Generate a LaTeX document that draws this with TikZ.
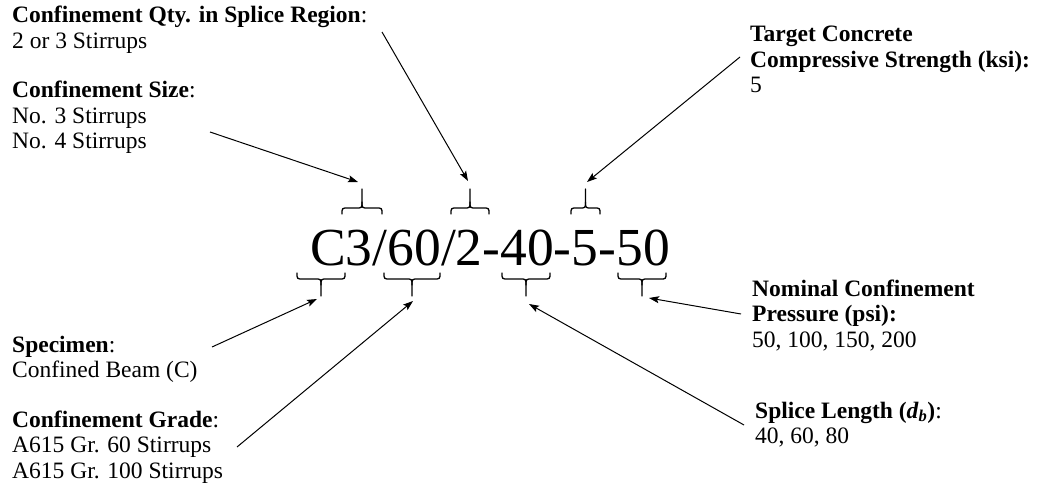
\documentclass[tikz,border=0pt]{standalone}
\usepackage{fontspec}
\setmainfont{Liberation Serif}
\usetikzlibrary{arrows.meta}

\tikzset{
  lbl/.style={anchor=base west, align=left, inner sep=0pt,
              font=\fontsize{23.5}{25.5}\selectfont},
  code/.style={anchor=base west, inner sep=0pt, font=\fontsize{53.5}{54}\selectfont},
  arr/.style={line width=1pt, -{Stealth[length=10pt,width=7pt,inset=2pt]}},
  br/.style={line width=1.3pt, line cap=round, line join=round},
}

% brace above a group of characters: #1 left x, #2 right x, #3 y of the ends, #4 y of the tip
\newcommand\bracetop[4]{%
  \pgfmathsetmacro\bxm{(#1+#2)/2}%
  \draw[br] (#1,#3) .. controls (#1,{#3-6}) .. ({#1+6},{#3-6})
    -- ({\bxm-6},{#3-6}) .. controls (\bxm,{#3-6}) .. (\bxm,{#3-12})
    -- (\bxm,#4);
  \draw[br] (\bxm,{#3-12}) .. controls (\bxm,{#3-6}) .. ({\bxm+6},{#3-6})
    -- ({#2-6},{#3-6}) .. controls (#2,{#3-6}) .. (#2,#3);
}
% brace below a group of characters: #1 left x, #2 right x, #3 y of the ends, #4 y of the tip
\newcommand\bracebot[4]{%
  \pgfmathsetmacro\bxm{(#1+#2)/2}%
  \draw[br] (#1,#3) .. controls (#1,{#3+6}) .. ({#1+6},{#3+6})
    -- ({\bxm-6},{#3+6}) .. controls (\bxm,{#3+6}) .. (\bxm,{#3+12})
    -- (\bxm,#4);
  \draw[br] (\bxm,{#3+12}) .. controls (\bxm,{#3+6}) .. ({\bxm+6},{#3+6})
    -- ({#2-6},{#3+6}) .. controls (#2,{#3+6}) .. (#2,#3);
}

\begin{document}
\begin{tikzpicture}[x=1pt,y=-1pt]
\useasboundingbox (0,0) rectangle (1040,494);

% specimen designation
\node[code] (code) at (310,265) {C3/60/2-40-5-50};

% braces over and under the parts of the designation
\bracetop{342}{382}{214}{189}
\bracetop{451}{489}{214}{189}
\bracetop{571}{600}{214}{189}
\bracebot{297}{345}{273}{296}
\bracebot{384}{440}{273}{296}
\bracebot{502}{550}{273}{296}
\bracebot{618}{666}{273}{296}

% labels (each placed by the baseline of its last line)
\node[lbl] (qty) at (12,48.5) {\textbf{Confinement Qty. in Splice Region}:\\2 or 3 Stirrups};
\node[lbl] (size) at (12,149) {\textbf{Confinement Size}:\\No. 3 Stirrups\\No. 4 Stirrups};
\node[lbl] (target) at (750,93) {\textbf{Target Concrete}\\\textbf{Compressive Strength (ksi):}\\5};
\node[lbl] (spec) at (12,377.5) {\textbf{Specimen}:\\Confined Beam (C)};
\node[lbl] (grade) at (12,478) {\textbf{Confinement Grade}:\\A615 Gr. 60 Stirrups\\A615 Gr. 100 Stirrups};
\node[lbl] (press) at (752,347) {\textbf{Nominal Confinement}\\\textbf{Pressure (psi):}\\50, 100, 150, 200};
\node[lbl] (splice) at (755,443.5) {\textbf{Splice Length (\textit{d}\textsubscript{\textit{b}})}:\\40, 60, 80};

% leader start points beside the labels
\coordinate (qtyS) at (382,32);
\coordinate (sizeS) at (210,132);
\coordinate (targetS) at (740,57);
\coordinate (specS) at (212,347);
\coordinate (gradeS) at (237,447);
\coordinate (pressS) at (741,314);
\coordinate (spliceS) at (744,425);

% arrow ends at the brace tips
\coordinate (qtyE) at (468,181);
\coordinate (sizeE) at (358,182);
\coordinate (targetE) at (587,182);
\coordinate (specE) at (317,299);
\coordinate (gradeE) at (413,301);
\coordinate (pressE) at (649,298);
\coordinate (spliceE) at (529,304);

\draw[arr] (qtyS) -- (qtyE);
\draw[arr] (sizeS) -- (sizeE);
\draw[arr] (targetS) -- (targetE);
\draw[arr] (specS) -- (specE);
\draw[arr] (gradeS) -- (gradeE);
\draw[arr] (pressS) -- (pressE);
\draw[arr] (spliceS) -- (spliceE);
\end{tikzpicture}
\end{document}
